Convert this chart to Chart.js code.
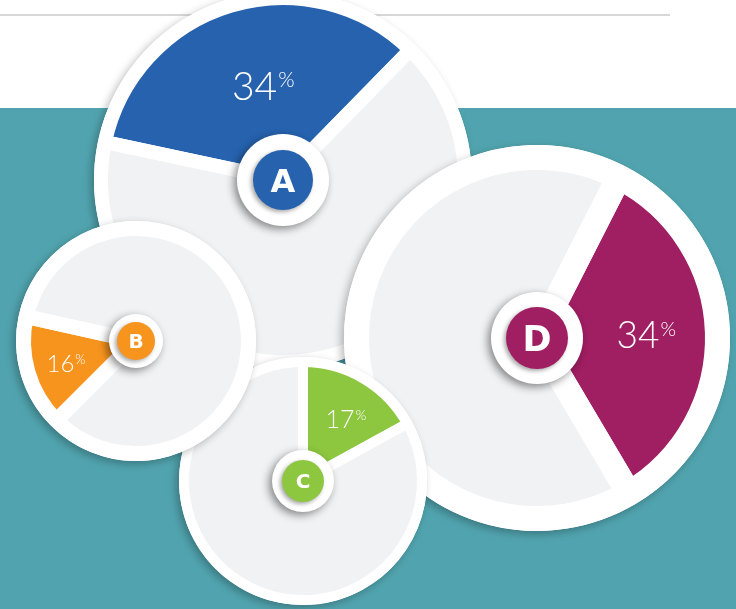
<!DOCTYPE html>
<html>
<head>
<meta charset="utf-8">
<script src="https://cdn.jsdelivr.net/npm/chart.js@4"></script>
<style>
  html, body { margin: 0; padding: 0; }
  body { width: 736px; height: 609px; position: relative; overflow: hidden; background: #51a4af; }
  #top { position: absolute; left: 0; top: 0; width: 736px; height: 108px; background: #fff; }
  .rule { position: absolute; top: 14px; height: 2px; background: #d8d8d8; }
  .pie { position: absolute; }
</style>
</head>
<body>
<div id="top"></div>
<div class="rule" style="left:0;width:192px"></div>
<div class="rule" style="left:373px;width:297px"></div>
<!-- stacking: A at the back, B in front -->
<div class="pie" id="wrapA"><canvas id="pieA"></canvas></div>
<div class="pie" id="wrapD"><canvas id="pieD"></canvas></div>
<div class="pie" id="wrapC"><canvas id="pieC"></canvas></div>
<div class="pie" id="wrapB"><canvas id="pieB"></canvas></div>
<script>
const letters = ["A", "B", "C", "D"];
const shares = [34, 16, 17, 34];
const rest = [66, 84, 83, 66];
const colors = ["#2662ae", "#f7941e", "#8dc63f", "#a01e62"];
const grey = "#f1f2f4";

// centre, outer radius of white ring, ring/gap width, start angle, badge sizes, label sizes
const layout = {
  A: { cx: 283, cy: 180, r: 189, gap: 14, rot: 282, badge: 46, dot: 30, letter: 32, label: 39, at: 0.54 },
  B: { cx: 136, cy: 341, r: 120, gap: 15, rot: 225, badge: 27, dot: 19, letter: 20, label: 24, at: 0.70 },
  C: { cx: 303, cy: 481, r: 124, gap: 10, rot: 0, badge: 31, dot: 21, letter: 20, label: 25, at: 0.61 },
  D: { cx: 537, cy: 338, r: 193, gap: 25, rot: 27, badge: 46, dot: 31, letter: 35, label: 37, at: 0.56 },
};
const pad = 14;

const pieDecor = {
  id: "pieDecor",
  beforeDatasetsDraw(chart, args, o) {
    const arc = chart.getDatasetMeta(0).data[0];
    const ctx = chart.ctx;
    ctx.save();
    ctx.shadowColor = "rgba(0,0,0,0.28)";
    ctx.shadowBlur = 9;
    ctx.shadowOffsetX = -3;
    ctx.shadowOffsetY = 3;
    ctx.fillStyle = "#fff";
    ctx.beginPath();
    ctx.arc(arc.x, arc.y, arc.outerRadius + o.gap / 2, 0, Math.PI * 2);
    ctx.fill();
    ctx.restore();
  },
  afterDatasetsDraw(chart, args, o) {
    const arc = chart.getDatasetMeta(0).data[0];
    const ctx = chart.ctx;
    const value = String(chart.data.datasets[0].data[0]);

    // percentage label inside the coloured slice
    const mid = (arc.startAngle + arc.endAngle) / 2;
    const lx = arc.x + Math.cos(mid) * arc.outerRadius * o.at;
    const ly = arc.y + Math.sin(mid) * arc.outerRadius * o.at;
    ctx.save();
    ctx.fillStyle = "#fff";
    ctx.font = "300 " + o.label + "px Lato";
    ctx.textAlign = "center";
    ctx.textBaseline = "alphabetic";
    ctx.fillText(value, lx, ly + o.label * 0.36);
    const w = ctx.measureText(value).width;
    ctx.font = "300 " + Math.round(o.label * 0.54) + "px Lato";
    ctx.textAlign = "left";
    ctx.fillText("%", lx + w / 2 + 1, ly + o.label * 0.04);
    ctx.restore();

    // centre badge
    ctx.save();
    ctx.shadowColor = "rgba(0,0,0,0.45)";
    ctx.shadowBlur = 8;
    ctx.shadowOffsetX = -3;
    ctx.shadowOffsetY = 3;
    ctx.fillStyle = "#fff";
    ctx.beginPath();
    ctx.arc(arc.x, arc.y, o.badge, 0, Math.PI * 2);
    ctx.fill();
    ctx.shadowColor = "rgba(0,0,0,0.35)";
    ctx.shadowBlur = 4;
    ctx.shadowOffsetX = -2;
    ctx.shadowOffsetY = 2;
    ctx.fillStyle = o.color;
    ctx.beginPath();
    ctx.arc(arc.x, arc.y, o.dot, 0, Math.PI * 2);
    ctx.fill();
    ctx.restore();

    ctx.save();
    ctx.fillStyle = "#fff";
    ctx.font = "bold " + o.letter + "px 'DejaVu Sans'";
    ctx.textAlign = "center";
    ctx.textBaseline = "alphabetic";
    ctx.fillText(o.name, arc.x, arc.y + o.letter * 0.365);
    ctx.restore();
  }
};

letters.forEach((name, i) => {
  const L = layout[name];
  const size = 2 * (L.r + pad);
  const wrap = document.getElementById("wrap" + name);
  wrap.style.left = (L.cx - L.r - pad) + "px";
  wrap.style.top = (L.cy - L.r - pad) + "px";
  wrap.style.width = size + "px";
  wrap.style.height = size + "px";

  const ctx = document.getElementById("pie" + name).getContext("2d");
  new Chart(ctx, {
    type: "pie",
    data: {
      labels: [name, "other"],
      datasets: [{
        data: [shares[i], rest[i]],
        backgroundColor: [colors[i], grey],
        borderColor: "#fff",
        borderWidth: L.gap,
        hoverOffset: 0,
        offset: 0,
      }],
    },
    options: {
      responsive: true,
      maintainAspectRatio: false,
      animation: false,
      events: [],
      rotation: L.rot,
      layout: { padding: pad },
      plugins: {
        legend: { display: false },
        tooltip: { enabled: false },
        pieDecor: Object.assign({ name: name, color: colors[i] }, L),
      },
    },
    plugins: [pieDecor],
  });
});
</script>
</body>
</html>
